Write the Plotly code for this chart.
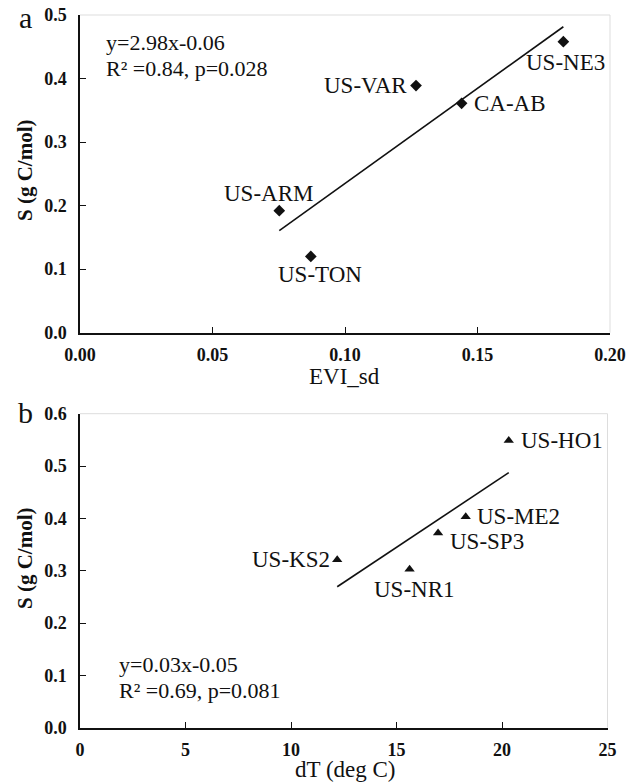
import numpy as np
import plotly.graph_objects as go

# ---- data panel a ----
sites_a = ["US-ARM", "US-TON", "US-VAR", "CA-AB", "US-NE3"]
evi_sd = [0.0752, 0.0871, 0.1268, 0.144, 0.1824]
s_a = [0.192, 0.120, 0.389, 0.361, 0.458]
eq_a = ["y=2.98x-0.06", "R² =0.84, p=0.028"]

# ---- data panel b ----
sites_b = ["US-KS2", "US-NR1", "US-SP3", "US-ME2", "US-HO1"]
dT = [12.19, 15.62, 16.97, 18.28, 20.32]
s_b = [0.321, 0.303, 0.372, 0.403, 0.549]
eq_b = ["y=0.03x-0.05", "R² =0.69, p=0.081"]

xticks_a = [0.00, 0.05, 0.10, 0.15, 0.20]
yticks_a = [0.0, 0.1, 0.2, 0.3, 0.4, 0.5]
xticks_b = [0, 5, 10, 15, 20, 25]
yticks_b = [0.0, 0.1, 0.2, 0.3, 0.4, 0.5, 0.6]

W, H = 635, 783
FONT = "Liberation Serif"
BLACK = "#111111"
TXT = 23
EQ = 22

# label placement styles: (xanchor, xshift, yshift)
lab_a = {"US-ARM": ("center", -11, 17), "US-TON": ("center", 9, -18),
         "US-VAR": ("right", -7, 0), "CA-AB": ("left", 10, 0),
         "US-NE3": ("center", 2, -21)}
lab_b = {"US-KS2": ("right", -5, 0), "US-NR1": ("center", 5, -20),
         "US-SP3": ("left", 10, -8), "US-ME2": ("left", 9, 0),
         "US-HO1": ("left", 10, 0)}

fig = go.Figure()

# fits
ka, ba = np.polyfit(evi_sd, s_a, 1)
xa = np.array([min(evi_sd), max(evi_sd)])
kb, bb = np.polyfit(dT, s_b, 1)
xb = np.array([min(dT), max(dT)])

fig.add_trace(go.Scatter(x=xa, y=ka * xa + ba, mode="lines",
                         line=dict(color=BLACK, width=1.6),
                         xaxis="x", yaxis="y", showlegend=False))
fig.add_trace(go.Scatter(x=evi_sd, y=s_a, mode="markers",
                         marker=dict(symbol="diamond", size=9, color=BLACK),
                         xaxis="x", yaxis="y", showlegend=False))
fig.add_trace(go.Scatter(x=xb, y=kb * xb + bb, mode="lines",
                         line=dict(color=BLACK, width=1.6),
                         xaxis="x2", yaxis="y2", showlegend=False))
fig.add_trace(go.Scatter(x=dT, y=s_b, mode="markers",
                         marker=dict(symbol="triangle-up", size=9, color=BLACK),
                         xaxis="x2", yaxis="y2", showlegend=False))

ann = []
for s, x, y in zip(sites_a, evi_sd, s_a):
    xa_, xs, ys = lab_a[s]
    ann.append(dict(x=x, y=y, xref="x", yref="y", text=s, showarrow=False,
                    xanchor=xa_, yanchor="middle", xshift=xs, yshift=ys,
                    font=dict(family=FONT, size=TXT, color=BLACK)))
for s, x, y in zip(sites_b, dT, s_b):
    xa_, xs, ys = lab_b[s]
    ann.append(dict(x=x, y=y, xref="x2", yref="y2", text=s, showarrow=False,
                    xanchor=xa_, yanchor="middle", xshift=xs, yshift=ys,
                    font=dict(family=FONT, size=TXT, color=BLACK)))

def px(xp, yp):
    return xp / W, 1 - yp / H

# equations
for i, t in enumerate(eq_a):
    x, y = px(104, 43 + i * 26)
    ann.append(dict(x=x, y=y, xref="paper", yref="paper", text=t, showarrow=False,
                    xanchor="left", yanchor="middle",
                    font=dict(family=FONT, size=EQ, color=BLACK)))
for i, t in enumerate(eq_b):
    x, y = px(117, 664 + i * 26)
    ann.append(dict(x=x, y=y, xref="paper", yref="paper", text=t, showarrow=False,
                    xanchor="left", yanchor="middle",
                    font=dict(family=FONT, size=EQ, color=BLACK)))

# panel letters
for t, (xp, yp) in [("a", (25, 18)), ("b", (25, 412))]:
    x, y = px(xp, yp)
    ann.append(dict(x=x, y=y, xref="paper", yref="paper", text=t, showarrow=False,
                    xanchor="center", yanchor="middle",
                    font=dict(family=FONT, size=30, color=BLACK)))

# axis titles
for t, (xp, yp), ang in [("<b>S (g C/mol)</b>", (25, 170), -90),
                         ("EVI_sd", (344, 376), 0),
                         ("<b>S (g C/mol)</b>", (25, 558), -90),
                         ("dT (deg C)", (345, 769), 0)]:
    x, y = px(xp, yp)
    ann.append(dict(x=x, y=y, xref="paper", yref="paper", text=t, showarrow=False,
                    xanchor="center", yanchor="middle", textangle=ang,
                    font=dict(family=FONT, size=TXT if ang == 0 else 21, color=BLACK)))

shapes = []
for xr, yr in [("x domain", "y domain"), ("x2 domain", "y2 domain")]:
    shapes.append(dict(type="line", xref=xr, yref=yr, x0=0, x1=1, y0=1, y1=1,
                       line=dict(color="#dddddd", width=1)))
    shapes.append(dict(type="line", xref=xr, yref=yr, x0=1, x1=1, y0=0, y1=1,
                       line=dict(color="#dddddd", width=1)))

tickfont = dict(family=FONT, size=18, color=BLACK, weight="bold")
common = dict(showgrid=False, zeroline=False, showline=True, linecolor=BLACK,
              linewidth=1.5, ticks="inside", ticklen=6, tickwidth=1.3,
              tickcolor=BLACK, tickfont=tickfont, automargin=False)

fig.update_layout(
    width=W, height=H, margin=dict(l=0, r=0, t=0, b=0),
    paper_bgcolor="white", plot_bgcolor="white",
    xaxis=dict(domain=[80 / W, 610 / W], range=[0, 0.2], tickvals=xticks_a,
               ticktext=[f"{v:.2f}" for v in xticks_a], anchor="y",
               ticklabelstandoff=5, **common),
    yaxis=dict(domain=[1 - 332.7 / H, 1 - 15 / H], range=[0, 0.5], tickvals=yticks_a,
               ticktext=[f"{v:.1f}" for v in yticks_a], anchor="x",
               ticklabelstandoff=8, **common),
    xaxis2=dict(domain=[80 / W, 607.5 / W], range=[0, 25], tickvals=xticks_b,
                ticktext=[str(v) for v in xticks_b], anchor="y2",
                ticklabelstandoff=5, **common),
    yaxis2=dict(domain=[1 - 727.7 / H, 1 - 413.7 / H], range=[0, 0.6], tickvals=yticks_b,
                ticktext=[f"{v:.1f}" for v in yticks_b], anchor="x2",
                ticklabelstandoff=8, **common),
    annotations=ann, shapes=shapes,
)

fig.write_html("out.html")
